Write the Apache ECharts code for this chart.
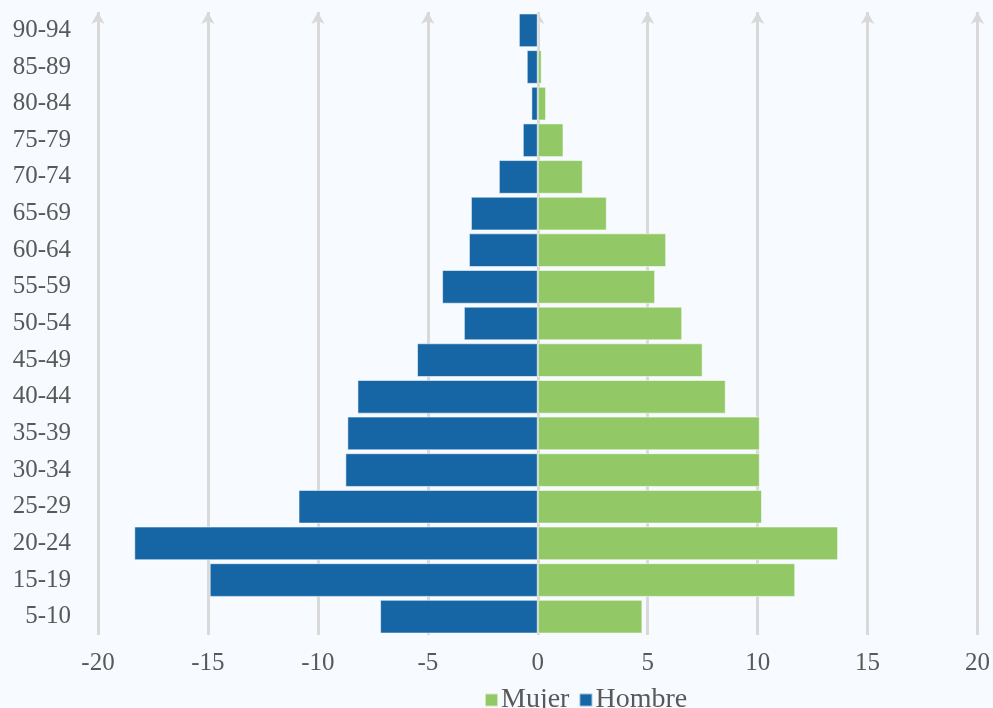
<!DOCTYPE html>
<html>
<head>
<meta charset="utf-8">
<script src="https://cdn.jsdelivr.net/npm/echarts@6/dist/echarts.min.js"></script>
<style>
html,body{margin:0;padding:0;background:#F7FBFF;}
#c{width:993px;height:708px;}
</style>
</head>
<body>
<div id="c"></div>
<script>
const categories = ['5-10','15-19','20-24','25-29','30-34','35-39','40-44','45-49','50-54','55-59','60-64','65-69','70-74','75-79','80-84','85-89','90-94'];
const mujer = [4.76, 11.71, 13.66, 10.2, 10.1, 10.1, 8.55, 7.5, 6.57, 5.34, 5.84, 3.14, 2.05, 1.17, 0.38, 0.18, 0];
const hombre = [-7.17, -14.92, -18.35, -10.88, -8.75, -8.66, -8.2, -5.49, -3.36, -4.35, -3.13, -3.04, -1.77, -0.68, -0.29, -0.5, -0.86];
const xTicks = [-20, -15, -10, -5, 0, 5, 10, 15, 20];

const FONT = 'Liberation Serif';
const chart = echarts.init(document.getElementById('c'));
chart.setOption({
  backgroundColor: '#F7FBFF',
  animation: false,
  textStyle: {fontFamily: FONT},
  grid: {left: 98, right: 13, top: 12, bottom: 73},
  legend: {
    data: ['Mujer', 'Hombre'],
    top: 681,
    left: 479,
    itemWidth: 13, itemHeight: 13, itemGap: 9,
    icon: 'rect',
    textStyle: {fontFamily: FONT, fontSize: 28, color: '#595959', padding: [0,0,0,-2]}
  },
  xAxis: {
    type: 'value', min: -20, max: 20, interval: 5,
    axisLine: {show: false}, axisTick: {show: false},
    splitLine: {show: false},
    axisLabel: {fontFamily: FONT, fontSize: 25, color: '#595959', margin: 16}
  },
  yAxis: {
    type: 'category', data: categories,
    axisLine: {show: false}, axisTick: {show: false},
    axisLabel: {fontFamily: FONT, fontSize: 25, color: '#595959', margin: 27, padding: [4, 0, 0, 0]}
  },
  series: [
    {
      name: 'Mujer', type: 'bar', stack: 'p', data: mujer,
      barCategoryGap: '8%',
      itemStyle: {color: '#92C966', borderColor: 'rgba(255,255,255,0.55)', borderWidth: 1},
      markLine: {
        z: 1, silent: true, animation: false,
        symbol: ['none', 'arrow'], symbolSize: [10, 12],
        label: {show: false},
        lineStyle: {color: '#D9D9D9', width: 3, type: 'solid'},
        data: xTicks.map(v => ({xAxis: v}))
      }
    },
    {
      name: 'Hombre', type: 'bar', stack: 'p', data: hombre,
      barCategoryGap: '8%',
      itemStyle: {color: '#1666A6', borderColor: 'rgba(255,255,255,0.55)', borderWidth: 1}
    }
  ]
});
</script>
</body>
</html>
